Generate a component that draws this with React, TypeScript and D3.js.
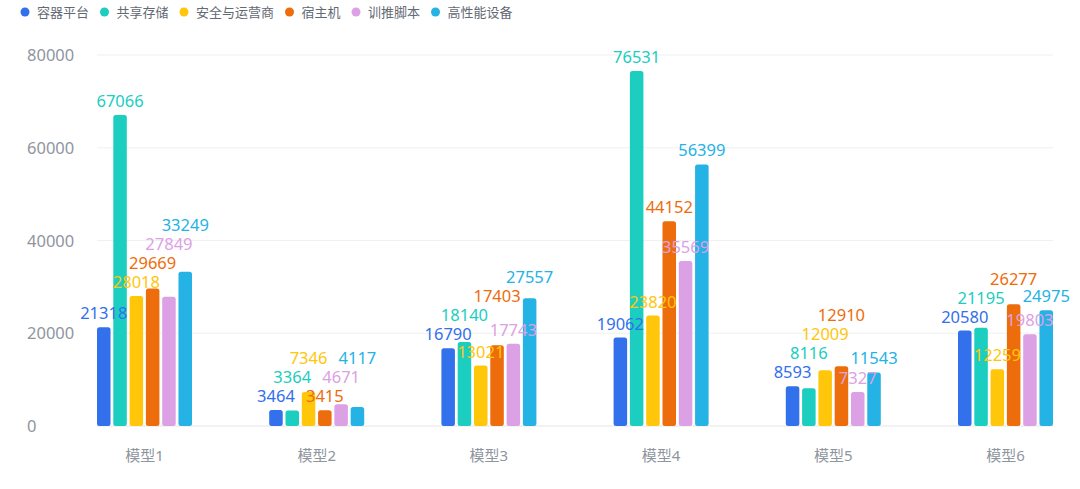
import React, { useEffect, useRef } from "react";
import * as d3 from "d3";

const categories = ["模型1", "模型2", "模型3", "模型4", "模型5", "模型6"];
const seriesNames = ["容器平台", "共享存储", "安全与运营商", "宿主机", "训推脚本", "高性能设备"];
const seriesColors = ["#3370EB", "#1BCEBF", "#FFC60A", "#ED6D0C", "#DCA1E4", "#25B2E5"];

const containerPlatform = [21318, 3464, 16790, 19062, 8593, 20580];
const sharedStorage = [67066, 3364, 18140, 76531, 8116, 21195];
const securityOps = [28018, 7346, 13021, 23820, 12009, 12259];
const hostMachine = [29669, 3415, 17403, 44152, 12910, 26277];
const trainingScripts = [27849, 4671, 17743, 35569, 7327, 19803];
const hpcDevices = [33249, 4117, 27557, 56399, 11543, 24975];

const seriesValues = [containerPlatform, sharedStorage, securityOps, hostMachine, trainingScripts, hpcDevices];
const yTicks = [0, 20000, 40000, 60000, 80000];

const FONT = "'Noto Sans', 'Noto Sans CJK SC', sans-serif";

interface LabelBox {
  x: number;
  y: number;
  w: number;
}

const App: React.FC = () => {
  const svgRef = useRef<SVGSVGElement>(null);

  useEffect(() => {
    if (!svgRef.current) return;
    const width = 1080;
    const height = 489;
    const plot = { left: 97, right: 1053, top: 55, bottom: 426 };
    const groupWidth = 95;

    const svg = d3.select(svgRef.current).attr("width", width).attr("height", height);
    svg.selectAll("*").remove();

    const x = d3
      .scalePoint<string>()
      .domain(categories)
      .range([plot.left + groupWidth / 2, plot.right - groupWidth / 2]);

    const xInner = d3
      .scaleBand<string>()
      .domain(seriesNames)
      .range([-groupWidth / 2, groupWidth / 2])
      .paddingInner(0.17)
      .paddingOuter(0);

    const y = d3.scaleLinear().domain([0, 80000]).range([plot.bottom, plot.top]);

    // grid + y labels
    const grid = svg.append("g");
    grid
      .selectAll("line")
      .data(yTicks)
      .enter()
      .append("line")
      .attr("x1", plot.left)
      .attr("x2", plot.right)
      .attr("y1", (d) => y(d))
      .attr("y2", (d) => y(d))
      .attr("stroke", (d) => (d === 0 ? "#E6E6E6" : "#F0F0F0"))
      .attr("stroke-width", 1.2);

    grid
      .selectAll("text")
      .data(yTicks)
      .enter()
      .append("text")
      .attr("x", 27)
      .attr("y", (d) => y(d) + 6)
      .attr("fill", "#8F959E")
      .style("font-family", FONT)
      .style("font-size", "16.5px")
      .text((d) => String(d));

    // x labels
    svg
      .append("g")
      .selectAll("text")
      .data(categories)
      .enter()
      .append("text")
      .attr("x", (d) => x(d) || 0)
      .attr("y", 461)
      .attr("text-anchor", "middle")
      .attr("fill", "#8F959E")
      .style("font-family", FONT)
      .style("font-size", "15px")
      .text((d) => d);

    // bars
    const bars = svg.append("g");
    seriesValues.forEach((vals, si) => {
      bars
        .append("g")
        .selectAll("rect")
        .data(vals)
        .enter()
        .append("rect")
        .attr("x", (d, i) => (x(categories[i]) || 0) + (xInner(seriesNames[si]) || 0))
        .attr("y", (d) => y(d))
        .attr("width", xInner.bandwidth())
        .attr("height", (d) => plot.bottom - y(d))
        .attr("rx", 2.5)
        .attr("fill", seriesColors[si]);
    });

    // value labels with simple upward shift on overlap
    const labels = svg.append("g");
    categories.forEach((cat, ci) => {
      const placed: LabelBox[] = [];
      seriesValues.forEach((vals, si) => {
        const v = vals[ci];
        const cx = (x(cat) || 0) + (xInner(seriesNames[si]) || 0) + xInner.bandwidth() / 2;
        const w = String(v).length * 9.4;
        let cy = y(v) - 14;
        let moved = true;
        while (moved) {
          moved = false;
          for (const p of placed) {
            if (Math.abs(p.x - cx) < (p.w + w) / 2 && Math.abs(p.y - cy) < 17) {
              cy = p.y - 19;
              moved = true;
            }
          }
        }
        placed.push({ x: cx, y: cy, w });
        labels
          .append("text")
          .attr("x", cx)
          .attr("y", cy + 6)
          .attr("text-anchor", "middle")
          .attr("fill", seriesColors[si])
          .style("font-family", FONT)
          .style("font-size", "16.5px")
          .text(String(v));
      });
    });

    // legend
    const legend = svg.append("g");
    let lx = 25;
    seriesNames.forEach((name, i) => {
      legend
        .append("circle")
        .attr("cx", lx)
        .attr("cy", 12)
        .attr("r", 4.5)
        .attr("fill", seriesColors[i]);
      legend
        .append("text")
        .attr("x", lx + 12)
        .attr("y", 17)
        .attr("fill", "#646A73")
        .style("font-family", FONT)
        .style("font-size", "13px")
        .text(name);
      lx += 12 + name.length * 13 + 15.5;
    });
  }, []);

  return <svg ref={svgRef} style={{ position: "absolute", left: 0, top: 0, display: "block" }}></svg>;
};

export default App;
